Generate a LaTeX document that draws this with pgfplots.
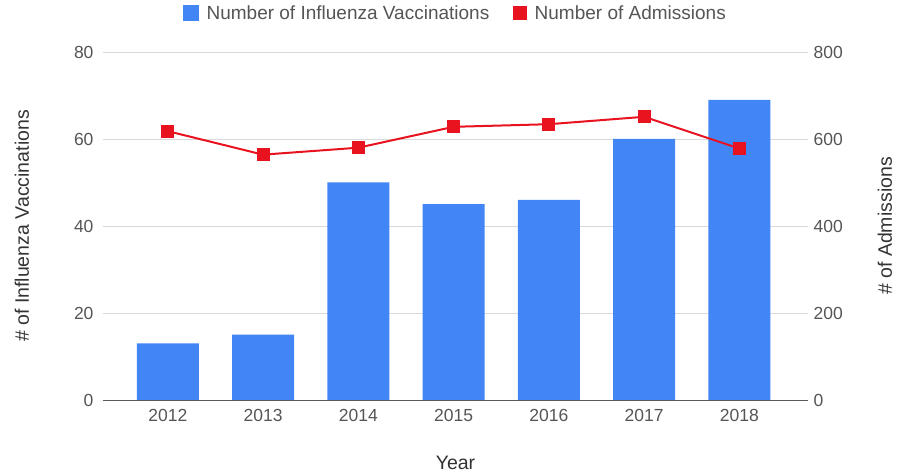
\documentclass[border=0pt]{standalone}
\usepackage{pgfplots}
\pgfplotsset{compat=1.18}
\usepackage{fontspec}
\setmainfont{Liberation Sans}
\definecolor{barblue}{HTML}{4285F4}
\definecolor{linered}{HTML}{E8131F}
\definecolor{txtgrey}{HTML}{555555}
\definecolor{lblgrey}{HTML}{333333}
\definecolor{gridgrey}{HTML}{D9D9D9}
\begin{document}
\begin{tikzpicture}
\pgfplotsset{
  common/.style={
    width=705pt, height=348pt, scale only axis,
    xmin=-0.68, xmax=6.72,
    xtick={0,...,6}, xticklabels={2012,2013,2014,2015,2016,2017,2018},
    major tick length=0pt,
    tick style={draw=none},
    ticklabel style={font=\fontsize{17.5}{20}\selectfont, text=txtgrey},
    /pgf/number format/assume math mode=true,
    axis line style={draw=none},
    label style={font=\fontsize{19.5}{22}\selectfont, text=lblgrey},
  }
}
\begin{axis}[common, name=ax,
  ymin=0, ymax=80, ytick={0,20,40,60,80},
  ymajorgrids, grid style={gridgrey, line width=0.8pt},
  yticklabel style={xshift=-6pt},
  xticklabel style={yshift=-6pt},
  ylabel={\# of Influenza Vaccinations},
  ylabel style={at={(axis description cs:0,0.5)}, anchor=center, yshift=81pt},
  xlabel={Year},
  xlabel style={at={(axis description cs:0.5,0)}, anchor=center, yshift=-63pt},
]
\addplot[ybar, bar width=62pt, fill=barblue, draw=none] coordinates {
  (0,13) (1,15) (2,50) (3,45) (4,46) (5,60) (6,69)
};
\draw[black!65, line width=1pt] (axis cs:-0.68,0) -- (axis cs:6.72,0);
\end{axis}
\begin{axis}[common,
  ymin=0, ymax=800, ytick={0,200,400,600,800},
  axis y line*=right, axis x line=none,
  yticklabel style={xshift=2pt},
  ylabel={\# of Admissions},
  ylabel style={at={(axis description cs:1,0.5)}, anchor=center, yshift=-77pt},
  legend style={at={(0.5,1)}, yshift=39pt, anchor=center, draw=none, fill=none,
    legend columns=2, font=\fontsize{19}{22}\selectfont,
    /tikz/every odd column/.append style={column sep=6pt},
    /tikz/every even column/.append style={column sep=22pt},
    nodes={text=txtgrey, inner xsep=2pt}},
  legend cell align=left,
]
\addlegendimage{legend image code/.code={\fill[barblue] (0pt,-7.5pt) rectangle (15pt,7.5pt);}}
\addlegendentry{Number of Influenza Vaccinations}
\addlegendimage{legend image code/.code={\fill[linered] (1pt,-6.5pt) rectangle (14pt,6.5pt);}}
\addlegendentry{Number of Admissions}
\addplot[linered, line width=2pt, mark=square*, mark size=5.5pt, mark options={fill=linered, draw=linered}, forget plot] coordinates {
  (0,618) (1,564) (2,580) (3,628) (4,634) (5,651) (6,578)
};
\end{axis}
\path[use as bounding box] ([xshift=-103pt,yshift=-76pt]ax.south west) rectangle ([xshift=96pt,yshift=52pt]ax.north east);
\end{tikzpicture}
\end{document}
